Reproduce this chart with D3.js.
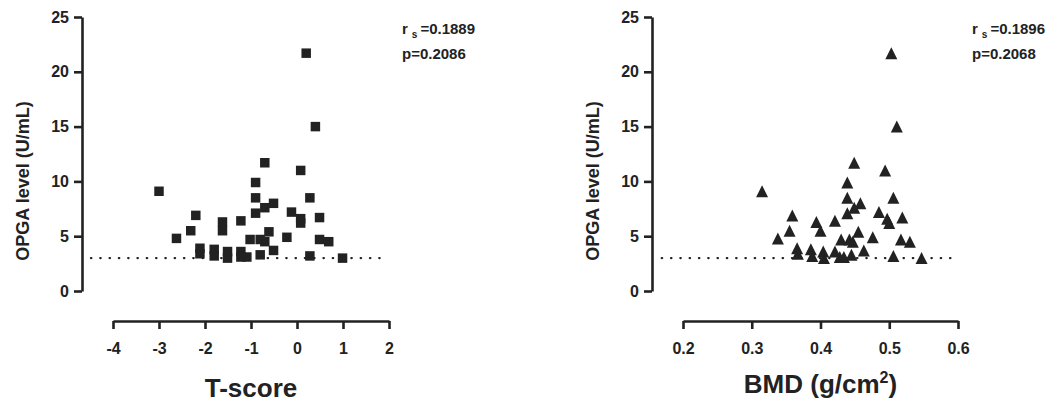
<!DOCTYPE html>
<html>
<head>
<meta charset="utf-8">
<script src="https://cdn.jsdelivr.net/npm/d3@7"></script>
<style>
  body { margin: 0; background: #fff; }
  text { font-family: "Liberation Sans", Arial, Helvetica, sans-serif; font-weight: bold; fill: #222; }
</style>
</head>
<body>
<div id="chart"></div>
<script>
// OPGA level (U/mL) for each patient, same order in both panels
const opga = [21.7, 15.0, 9.1, 11.7, 11.0, 9.9, 8.5, 8.5, 8.0, 7.6, 7.1, 7.2, 6.9, 6.7,
  6.6, 6.2, 6.3, 5.5, 6.4, 5.5, 4.8, 5.4, 4.9, 4.7, 4.5, 4.7, 4.7, 4.5, 3.7, 3.9,
  3.4, 3.8, 3.2, 3.6, 3.0, 3.6, 3.1, 3.1, 3.3, 3.2, 3.0];
const tScore = [0.2, 0.4, -3.0, -0.7, 0.08, -0.9, -0.9, 0.28, -0.51, -0.7, -0.9, -0.12, -2.2, 0.49,
  0.08, 0.08, -1.62, -1.62, -1.22, -2.31, -2.62, -0.61, -0.22, 0.49, 0.69, -1.02, -0.8, -0.7, -0.51, -2.11,
  -2.11, -1.8, -1.8, -1.51, -1.51, -1.22, -1.22, -1.09, -0.8, 0.28, 0.99];
const bmd = [0.503, 0.511, 0.315, 0.449, 0.494, 0.439, 0.439, 0.506, 0.458, 0.449, 0.439, 0.485, 0.359, 0.519,
  0.497, 0.500, 0.394, 0.400, 0.421, 0.355, 0.338, 0.455, 0.476, 0.517, 0.530, 0.430, 0.442, 0.447, 0.463, 0.366,
  0.367, 0.386, 0.388, 0.404, 0.405, 0.421, 0.428, 0.434, 0.445, 0.506, 0.547];

const yTicks = [0, 5, 10, 15, 20, 25];
const tTicks = [-4, -3, -2, -1, 0, 1, 2];
const bmdTicks = [0.2, 0.3, 0.4, 0.5, 0.6];
const cutoff = 3;
const cutoffT = [-4.48, 1.91];
const cutoffBmd = [0.169, 0.592];
const statsT = ["0.1889", "0.2086"];
const statsBmd = ["0.1896", "0.2068"];

const W = 1046, H = 403;
const ink = "#222";

// tall triangle like the prism marker (width == height), centred on its box
const tallTriangle = {
  draw(ctx, size) {
    const h = Math.sqrt(size) / 2;
    ctx.moveTo(0, -h);
    ctx.lineTo(h, h);
    ctx.lineTo(-h, h);
    ctx.closePath();
  }
};

const svg = d3.select("#chart").append("svg")
  .attr("width", W).attr("height", H);

function panel(opts) {
  const g = svg.append("g");
  const x = d3.scaleLinear().domain(opts.xDomain).range(opts.xRange);
  const y = d3.scaleLinear().domain([0, 25]).range([291, 17]);

  // y axis
  const ya = g.append("g")
    .attr("transform", "translate(" + opts.yAxisX + ",0)")
    .call(d3.axisLeft(y).tickValues(yTicks).tickSize(8).tickSizeOuter(0).tickPadding(5));
  // x axis, detached below the plot
  const xa = g.append("g")
    .attr("transform", "translate(0,321)")
    .call(d3.axisBottom(x).tickValues(opts.xTicks).tickFormat(opts.fmt).tickSize(8).tickSizeOuter(0).tickPadding(14));

  [ya, xa].forEach(a => {
    a.select(".domain").attr("stroke", ink).attr("stroke-width", 2.6);
    a.selectAll(".tick line").attr("stroke", ink).attr("stroke-width", 2.6);
    a.selectAll(".tick text").style("font-size", "16px").attr("fill", ink)
      .style("font-family", "'Liberation Sans', Arial, sans-serif").style("font-weight", "bold");
  });

  // cutoff line
  g.append("line")
    .attr("x1", x(opts.cut[0])).attr("x2", x(opts.cut[1]))
    .attr("y1", y(cutoff)).attr("y2", y(cutoff))
    .attr("stroke", ink).attr("stroke-width", 2.2)
    .attr("stroke-linecap", "round")
    .attr("stroke-dasharray", "0.5,8.8");

  // points
  const sym = d3.symbol().type(opts.symbol).size(opts.symSize);
  g.selectAll("path.pt").data(opts.xs)
    .enter().append("path")
    .attr("class", "pt")
    .attr("d", sym)
    .attr("fill", ink)
    .attr("transform", (d, i) => "translate(" + x(d) + "," + y(opga[i]) + ")");

  // axis titles
  g.append("text")
    .attr("transform", "translate(" + (opts.yAxisX - 53) + ",181) rotate(-90)")
    .attr("text-anchor", "middle")
    .style("font-size", "18px")
    .text("OPGA level (U/mL)");

  const xt = g.append("text")
    .attr("x", (opts.xRange[0] + opts.xRange[1]) / 2)
    .attr("y", opts.titleY)
    .attr("text-anchor", "middle")
    .style("font-size", "26px");
  opts.xTitle(xt);

  // stats
  const st = g.append("text").attr("x", opts.statsX).attr("y", 34).style("font-size", "15px");
  st.append("tspan").text("r");
  st.append("tspan").attr("dx", 4).attr("dy", 4).style("font-size", "10px").text("s");
  st.append("tspan").attr("dx", 3).attr("dy", -4).text("=" + opts.stats[0]);
  g.append("text").attr("x", opts.statsX).attr("y", 59).style("font-size", "15px")
    .text("p=" + opts.stats[1]);
}

panel({
  xDomain: [-4, 2], xRange: [113, 389], yAxisX: 82,
  xTicks: tTicks, fmt: d => String(d),
  cut: cutoffT, xs: tScore,
  symbol: d3.symbolSquare, symSize: 90,
  titleY: 397,
  xTitle: t => t.text("T-score"),
  statsX: 402, stats: statsT
});

panel({
  xDomain: [0.2, 0.6], xRange: [683, 958], yAxisX: 652,
  xTicks: bmdTicks, fmt: d3.format(".1f"),
  cut: cutoffBmd, xs: bmd,
  symbol: tallTriangle, symSize: 144,
  titleY: 393,
  xTitle: t => {
    t.append("tspan").text("BMD (g/cm");
    t.append("tspan").attr("dy", -10).style("font-size", "16px").text("2");
    t.append("tspan").attr("dy", 10).text(")");
  },
  statsX: 972, stats: statsBmd
});
</script>
</body>
</html>
